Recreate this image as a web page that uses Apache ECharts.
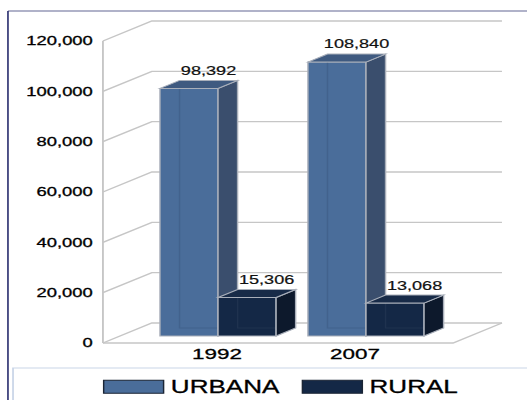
<!DOCTYPE html>
<html>
<head>
<meta charset="utf-8">
<script src="https://cdn.jsdelivr.net/npm/echarts@6/dist/echarts.min.js"></script>
<style>
  html, body { margin: 0; padding: 0; background: #fff; }
  #wrap { width: 527px; height: 400px; overflow: hidden; background: #fff; }
  /* the chart is laid out on a narrower canvas and widened horizontally */
  #main { width: 364px; height: 400px; transform: scaleX(1.4478); transform-origin: 0 0; }
</style>
</head>
<body>
<div id="wrap"><div id="main"></div></div>
<script>
// ---- data ----
const categories = ['1992', '2007'];
const seriesNames = ['URBANA', 'RURAL'];
const urbana = [98392, 108840];
const rural = [15306, 13068];
const yTicks = [0, 20000, 40000, 60000, 80000, 100000, 120000];

// ---- styling constants ----
const FONT = "'Liberation Sans', Arial, sans-serif";
const GRID_COLOR = '#c6c6c6';
const WALL_DX = 33.8, WALL_DY = -20;    // depth of the back wall
const SHIFT_X = 11.7, SHIFT_Y = -7;     // bars sit a little behind the front plane
const BAR_DX = 13.5, BAR_DY = -8;       // depth of each bar
const BAR_W = 40.1;
const FRAME_LEFT = 16.7, FRAME_RIGHT = 20.7;
const EDGE = '#a9afba';

const palette = {
  URBANA: { front: '#4a6d9a', side: '#3a4e6d', top: '#3f5a80', inner: 'rgba(20,40,70,0.15)' },
  RURAL:  { front: '#142846', side: '#0d192c', top: '#182b48', inner: 'rgba(255,255,255,0.05)' }
};

const fmt = v => v.toLocaleString('en-US');

// perspective walls and gridlines, one polyline per tick value
function renderFrame(params, api) {
  const cs = params.coordSys;
  const v = api.value(1);
  const y = api.coord([0, v])[1];
  const fx = cs.x - FRAME_LEFT;
  const bx = cs.x + cs.width + FRAME_RIGHT;
  const line = (pts) => ({
    type: 'polyline', shape: { points: pts },
    style: { stroke: GRID_COLOR, lineWidth: 1.3, fill: null }
  });
  const children = [line([[fx, y], [fx + WALL_DX, y + WALL_DY], [bx + WALL_DX, y + WALL_DY]])];
  if (v === yTicks[0]) {
    const yTop = api.coord([0, yTicks[yTicks.length - 1]])[1];
    children.push(line([[fx, y], [bx, y], [bx + WALL_DX, y + WALL_DY]]));
    children.push(line([[fx, yTop], [fx, y]]));
  }
  return { type: 'group', children };
}

// a 3D box bar: front, side and top faces plus a value label
function barRenderer(name, side) {
  const c = palette[name];
  return function (params, api) {
    const idx = api.value(0), val = api.value(1);
    const base = api.coord([idx, 0]);
    const top = api.coord([idx, val]);
    const xl = base[0] + SHIFT_X + (side < 0 ? -BAR_W : 0);
    const xr = xl + BAR_W;
    const yb = base[1] + SHIFT_Y;
    const yt = top[1] + SHIFT_Y;
    const edge = { stroke: EDGE, lineWidth: 1 };
    return {
      type: 'group',
      children: [
        { type: 'polygon', shape: { points: [[xl, yt], [xr, yt], [xr, yb], [xl, yb]] },
          style: Object.assign({ fill: c.front }, edge) },
        // hidden back edges, faintly visible through the box
        { type: 'polyline', shape: { points: [[xl + BAR_DX, yt + BAR_DY], [xl + BAR_DX, yb + BAR_DY], [xr, yb + BAR_DY]] },
          style: { stroke: c.inner, lineWidth: 1, fill: null } },
        { type: 'polygon', shape: { points: [[xr, yt], [xr + BAR_DX, yt + BAR_DY], [xr + BAR_DX, yb + BAR_DY], [xr, yb]] },
          style: Object.assign({ fill: c.side }, edge) },
        { type: 'polygon', shape: { points: [[xl, yt], [xl + BAR_DX, yt + BAR_DY], [xr + BAR_DX, yt + BAR_DY], [xr, yt]] },
          style: Object.assign({ fill: c.top }, edge) },
        { type: 'text',
          style: { text: fmt(val), x: (xl + xr) / 2 + BAR_DX, y: yt + BAR_DY - 10,
                   align: 'center', verticalAlign: 'middle',
                   font: '12.5px ' + FONT, fill: '#111', stroke: '#111', lineWidth: 0.2 } }
      ]
    };
  };
}

const chart = echarts.init(document.getElementById('main'), null, { renderer: 'svg' });

chart.setOption({
  animation: false,
  backgroundColor: '#fff',
  grid: [
    { left: 87.8, right: 71.8, top: 41, bottom: 57 },
    { left: 102.25, right: 71.15, top: 41, bottom: 57 }
  ],
  xAxis: [
    { type: 'category', gridIndex: 0, data: categories, show: false },
    { type: 'category', gridIndex: 1, data: categories,
      axisLine: { show: false }, axisTick: { show: false },
      axisLabel: { margin: 3, fontFamily: FONT, fontSize: 15.5, color: '#000',
                   textBorderColor: '#000', textBorderWidth: 0.3 } }
  ],
  yAxis: [
    { type: 'value', gridIndex: 0, min: yTicks[0], max: yTicks[yTicks.length - 1],
      interval: yTicks[1] - yTicks[0], offset: FRAME_LEFT,
      axisLine: { show: false }, axisTick: { show: false }, splitLine: { show: false },
      axisLabel: { margin: 7, fontFamily: FONT, fontSize: 12.7, color: '#000',
                   textBorderColor: '#000', textBorderWidth: 0.3, formatter: fmt } },
    { type: 'value', gridIndex: 1, min: yTicks[0], max: yTicks[yTicks.length - 1], show: false }
  ],
  legend: {
    left: 71.1, top: 377.5, padding: 0,
    itemWidth: 41.4, itemHeight: 13, itemGap: 15.2, icon: 'rect',
    data: [
      { name: seriesNames[0], itemStyle: { color: palette.URBANA.front, borderColor: '#1b2535', borderWidth: 1 } },
      { name: seriesNames[1], itemStyle: { color: palette.RURAL.front, borderColor: '#1b2535', borderWidth: 1 } }
    ],
    textStyle: { fontFamily: FONT, fontSize: 18, color: '#000', textBorderColor: '#000', textBorderWidth: 0.3 }
  },
  graphic: [
    { type: 'line', shape: { x1: 5.5, y1: 11, x2: 364, y2: 11 },
      style: { stroke: '#b0b2c9', lineWidth: 2 }, silent: true },
    { type: 'line', shape: { x1: 5.5, y1: 11, x2: 5.5, y2: 400 },
      style: { stroke: '#262a6c', lineWidth: 1.1 }, silent: true },
    { type: 'rect', shape: { x: 9, y: 368, width: 400, height: 60 },
      style: { stroke: '#c9d5e8', lineWidth: 1.2, fill: null }, silent: true }
  ],
  series: [
    { type: 'custom', name: 'frame', xAxisIndex: 0, yAxisIndex: 0, silent: true, z: 1,
      renderItem: renderFrame, data: yTicks.map(v => [0, v]) },
    { type: 'custom', name: seriesNames[0], xAxisIndex: 0, yAxisIndex: 0, z: 2,
      itemStyle: { color: palette.URBANA.front },
      renderItem: barRenderer('URBANA', -1), data: urbana.map((v, i) => [i, v]) },
    { type: 'custom', name: seriesNames[1], xAxisIndex: 0, yAxisIndex: 0, z: 3,
      itemStyle: { color: palette.RURAL.front },
      renderItem: barRenderer('RURAL', 1), data: rural.map((v, i) => [i, v]) }
  ]
});
</script>
</body>
</html>
